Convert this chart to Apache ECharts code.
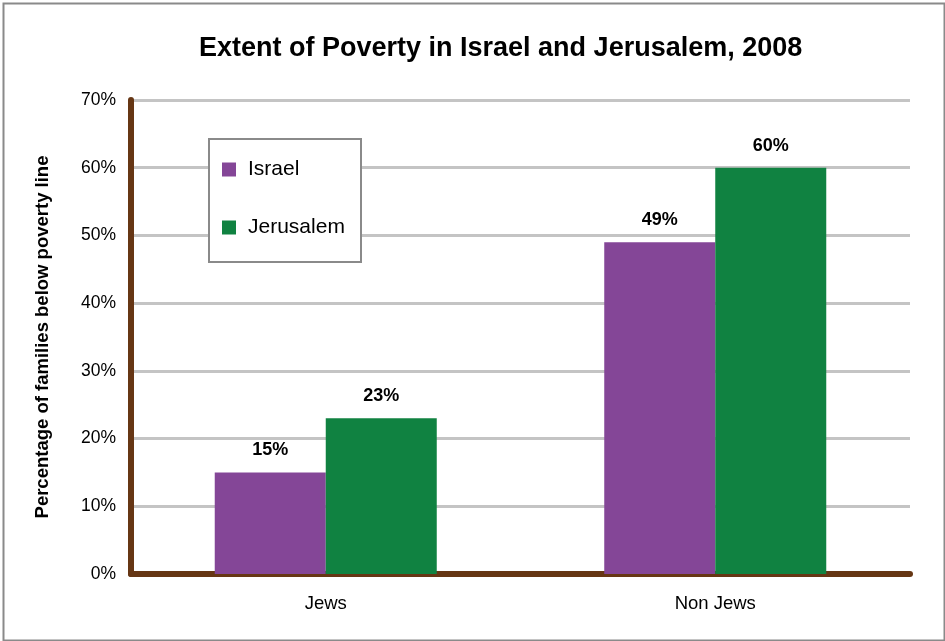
<!DOCTYPE html>
<html>
<head>
<meta charset="utf-8">
<script src="https://cdn.jsdelivr.net/npm/echarts@6/dist/echarts.min.js"></script>
<style>
html,body{margin:0;padding:0;background:#fff;}
#chart{width:945px;height:641px;}
</style>
</head>
<body>
<div id="chart"></div>
<script>
var categories = ['Jews', 'Non Jews'];
var israel = [15, 49];
var jerusalem = [23, 60];
var seriesNames = ['Israel', 'Jerusalem'];
var yTicks = [0, 10, 20, 30, 40, 50, 60, 70];

var FONT = '"Liberation Sans", Arial, sans-serif';
var chart = echarts.init(document.getElementById('chart'));
var labelOpt = {
  show: true, position: 'top', distance: 13,
  formatter: function (p) { return p.value + '%'; },
  fontFamily: FONT, fontWeight: 'bold', fontSize: 18, color: '#000'
};
chart.setOption({
  animation: false,
  backgroundColor: '#fff',
  title: {
    text: 'Extent of Poverty in Israel and Jerusalem, 2008',
    left: 194, top: 30,
    textStyle: { fontFamily: FONT, fontWeight: 'bold', fontSize: 27, color: '#000' }
  },
  graphic: [{
    type: 'rect', left: 1, top: 1, silent: true, z: 1,
    shape: { width: 941, height: 637 },
    style: { fill: 'none', stroke: '#8a8a8a', lineWidth: 2 }
  }, {
    type: 'rect', left: 208, top: 138, silent: true, z: 10,
    shape: { width: 152, height: 123 },
    style: { fill: '#fff', stroke: '#8a8a8a', lineWidth: 2 }
  }],
  legend: {
    orient: 'vertical', left: 222, top: 159,
    padding: 0,
    itemGap: 37,
    itemWidth: 14, itemHeight: 14,
    icon: 'rect',
    z: 20,
    textStyle: { fontFamily: FONT, fontSize: 21, color: '#000', padding: [0, 0, 0, 7] },
    data: seriesNames
  },
  grid: { left: 131, right: 35, top: 100, bottom: 67, containLabel: false },
  xAxis: {
    type: 'category', data: categories,
    axisLine: { lineStyle: { color: '#663614', width: 6, cap: 'round' } },
    axisTick: { show: false },
    axisLabel: { fontFamily: FONT, fontSize: 18.5, color: '#000', margin: 20 }
  },
  yAxis: {
    type: 'value', min: yTicks[0], max: yTicks[yTicks.length - 1], interval: 10,
    name: 'Percentage of families below poverty line',
    nameLocation: 'middle', nameGap: 79,
    nameTextStyle: { fontFamily: FONT, fontWeight: 'bold', fontSize: 18.5, color: '#000' },
    axisLine: { show: true, lineStyle: { color: '#663614', width: 6, cap: 'round' } },
    axisTick: { show: false },
    axisLabel: { fontFamily: FONT, fontSize: 17.5, color: '#000', margin: 15,
      formatter: function (v) { return v + '%'; } },
    splitLine: { lineStyle: { color: '#c4c4c4', width: 3 } }
  },
  series: [
    { name: seriesNames[0], type: 'bar', data: israel, barGap: '0%', barCategoryGap: '43%',
      itemStyle: { color: '#844697' }, label: labelOpt },
    { name: seriesNames[1], type: 'bar', data: jerusalem, barGap: '0%', barCategoryGap: '43%',
      itemStyle: { color: '#108241' }, label: labelOpt }
  ]
});
</script>
</body>
</html>
